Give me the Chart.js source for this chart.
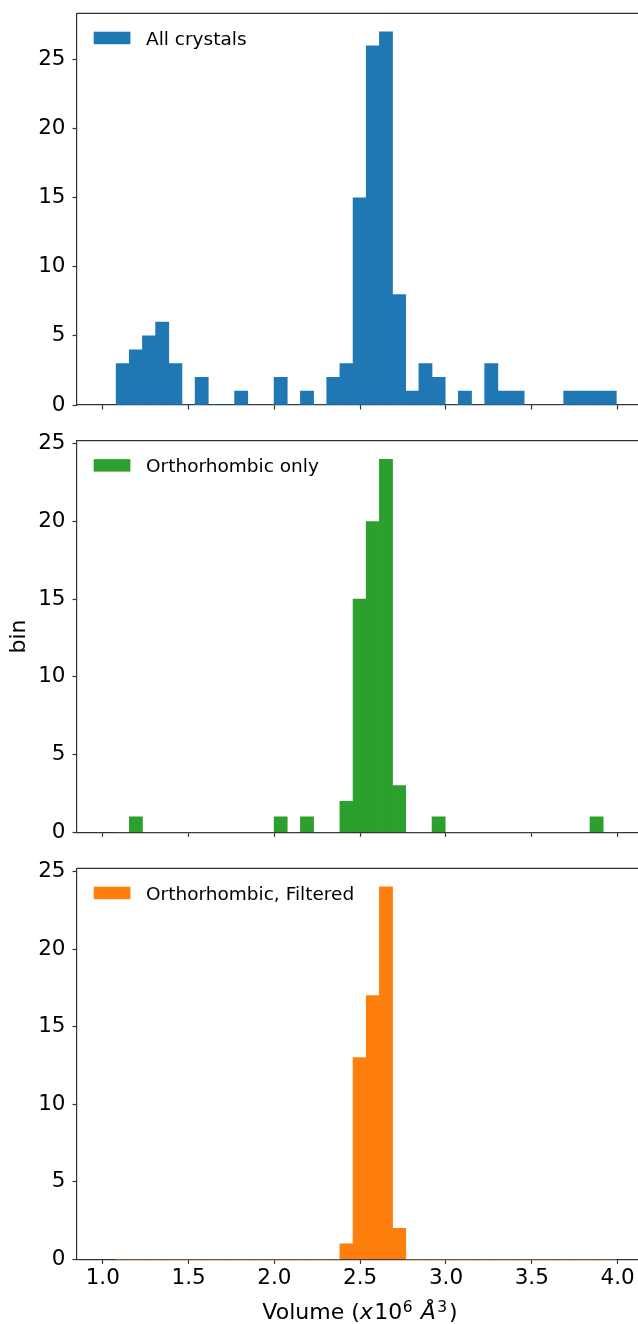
<!DOCTYPE html>
<html>
<head>
<meta charset="utf-8">
<script src="https://cdn.jsdelivr.net/npm/chart.js@4.4.1/dist/chart.umd.min.js"></script>
<style>
html, body { margin: 0; padding: 0; background: #fff; overflow: hidden; width: 638px; height: 1324px; }
.wrap { position: absolute; left: 0; }
canvas { display: block; }
</style>
</head>
<body>
<div class="wrap" style="top:0px"><canvas id="c1" width="650" height="425"></canvas></div>
<div class="wrap" style="top:425px"><canvas id="c2" width="650" height="425"></canvas></div>
<div class="wrap" style="top:850px"><canvas id="c3" width="650" height="474"></canvas></div>
<script>
// ---------- data ----------
const binStart = 1.078;     // left edge of first histogram bin (x10^6 Å^3)
const binWidth = 0.0767;    // histogram bin width
const allCrystals   = [3,4,5,6,3,0,2,0,0,1,0,0,2,0,1,0,2,3,15,26,27,8,1,3,2,0,1,0,3,1,1,0,0,0,1,1,1,1];
const orthoOnly     = [0,1,0,0,0,0,0,0,0,0,0,0,1,0,1,0,0,2,15,20,24,3,0,0,1,0,0,0,0,0,0,0,0,0,0,0,1,0];
const orthoFiltered = [0,0,0,0,0,0,0,0,0,0,0,0,0,0,0,0,0,1,13,17,24,2,0,0,0,0,0,0,0,0,0,0,0,0,0,0,0,0];
const seriesNames = ['All crystals', 'Orthorhombic only', 'Orthorhombic, Filtered'];
const xTicks = [1.0, 1.5, 2.0, 2.5, 3.0, 3.5, 4.0];
const xTickLabels = ['1.0', '1.5', '2.0', '2.5', '3.0', '3.5', '4.0'];
const yTicks = [0, 5, 10, 15, 20, 25];
const yTickLabels = ['0', '5', '10', '15', '20', '25'];
const yTitle = 'bin';

// ---------- styling ----------
const FONT = "'DejaVu Sans', 'Liberation Sans', sans-serif";
const AXIS_COLOR = '#333';
const X_MIN = 0.85, X_MAX = 4.148;

const panels = [
  { id: 'c1', padTop: 13.3, xAxisH: 20,   data: allCrystals,   color: '#1f77b4', label: seriesNames[0], yMax: 28.35, showX: false, yTitle: false },
  { id: 'c2', padTop: 15.7, xAxisH: 17.7, data: orthoOnly,     color: '#2ca02c', label: seriesNames[1], yMax: 25.2,  showX: false, yTitle: true },
  { id: 'c3', padTop: 18.3, xAxisH: 64.6, data: orthoFiltered, color: '#ff7f0e', label: seriesNames[2], yMax: 25.2,  showX: true,  yTitle: false, xTitle: true }
];

const framePlugin = {
  id: 'frame',
  afterDraw(chart) {
    const { ctx, chartArea: a } = chart;
    ctx.save();
    ctx.strokeStyle = AXIS_COLOR;
    ctx.lineWidth = 1.2;
    ctx.beginPath();
    ctx.moveTo(a.left, a.top);
    ctx.lineTo(a.right, a.top);
    ctx.lineTo(a.right, a.bottom);
    ctx.stroke();
    ctx.restore();
  }
};

const legendPlugin = {
  id: 'insideLegend',
  afterDraw(chart) {
    const { ctx, chartArea: a } = chart;
    const ds = chart.data.datasets[0];
    ctx.save();
    ctx.fillStyle = ds.backgroundColor;
    ctx.fillRect(a.left + 16.7, a.top + 18.4, 36.7, 12.5);
    ctx.fillStyle = '#000';
    ctx.font = "18.5px " + FONT;
    ctx.textBaseline = 'alphabetic';
    ctx.textAlign = 'left';
    ctx.fillText(ds.label, a.left + 69, a.top + 31.3);
    ctx.restore();
  }
};

const xTitlePlugin = {
  id: 'xTitle',
  afterDraw(chart) {
    const opts = chart.options.plugins.xTitle;
    if (!opts || !opts.display) return;
    const { ctx, chartArea: a } = chart;
    const size = 22, sup = 15.5, raise = 6.5;
    const parts = [
      { t: 'Volume (', f: `${size}px ${FONT}`, dy: 0, gap: 0 },
      { t: 'x', f: `italic ${size}px ${FONT}`, dy: 0, gap: 0 },
      { t: '10', f: `${size}px ${FONT}`, dy: 0, gap: 1.5 },
      { t: '6', f: `${sup}px ${FONT}`, dy: -raise, gap: 0.5 },
      { t: ' ', f: `${size}px ${FONT}`, dy: 0, gap: 0 },
      { t: 'Å', f: `italic ${size}px ${FONT}`, dy: 0, gap: 1 },
      { t: '3', f: `${sup}px ${FONT}`, dy: -raise, gap: 1.5 },
      { t: ')', f: `${size}px ${FONT}`, dy: 0, gap: 2 }
    ];
    ctx.save();
    ctx.fillStyle = '#000';
    ctx.textBaseline = 'alphabetic';
    ctx.textAlign = 'left';
    let total = 0;
    parts.forEach(p => { ctx.font = p.f; p.w = ctx.measureText(p.t).width; total += p.w + p.gap; });
    let x = (a.left + a.right) / 2 - total / 2;
    const y = a.bottom + 59.3;
    parts.forEach(p => { x += p.gap; ctx.font = p.f; ctx.fillText(p.t, x, y + p.dy); x += p.w; });
    ctx.restore();
  }
};

panels.forEach(p => {
  const points = p.data.map((c, i) => ({ x: binStart + (i + 0.5) * binWidth, y: c }));
  new Chart(document.getElementById(p.id), {
    type: 'bar',
    data: {
      datasets: [{
        label: p.label,
        data: points,
        backgroundColor: p.color,
        borderWidth: 0,
        barPercentage: 1,
        categoryPercentage: 1,
        grouped: false
      }]
    },
    options: {
      responsive: false,
      animation: false,
      devicePixelRatio: 1,
      layout: { padding: { top: p.padTop, right: 7, left: 0, bottom: 0 } },
      plugins: {
        legend: { display: false },
        tooltip: { enabled: false },
        xTitle: { display: !!p.xTitle }
      },
      scales: {
        x: {
          type: 'linear',
          min: X_MIN, max: X_MAX,
          offset: false,
          z: 1,
          afterBuildTicks: s => { s.ticks = xTicks.map(v => ({ value: v })); },
          afterFit: s => { s.height = p.xAxisH; s.paddingLeft = 0; s.paddingRight = 0; },
          ticks: {
            display: p.showX,
            autoSkip: false, maxRotation: 0, minRotation: 0,
            padding: 2,
            color: '#000',
            font: { family: FONT, size: 21.5 },
            callback: (v, i) => xTickLabels[i]
          },
          grid: { display: true, offset: false, drawOnChartArea: false, drawTicks: true, tickLength: 4.5, tickColor: AXIS_COLOR, tickWidth: 1.2 },
          border: { display: true, color: AXIS_COLOR, width: 1.2 }
        },
        y: {
          type: 'linear',
          min: 0, max: p.yMax,
          z: 1,
          afterBuildTicks: s => { s.ticks = yTicks.map(v => ({ value: v })); },
          afterFit: s => { s.width = 77; s.paddingTop = 0; s.paddingBottom = 0; },
          ticks: {
            padding: 7,
            color: '#000',
            font: { family: FONT, size: 21.5 },
            callback: (v, i) => yTickLabels[i]
          },
          grid: { display: true, drawOnChartArea: false, drawTicks: true, tickLength: 4.5, tickColor: AXIS_COLOR, tickWidth: 1.2 },
          border: { display: true, color: AXIS_COLOR, width: 1.2 },
          title: {
            display: p.yTitle,
            text: yTitle,
            color: '#000',
            font: { family: FONT, size: 22 },
            padding: { top: 6, bottom: 0 }
          }
        }
      }
    },
    plugins: [framePlugin, legendPlugin, xTitlePlugin]
  });
});
</script>
</body>
</html>
